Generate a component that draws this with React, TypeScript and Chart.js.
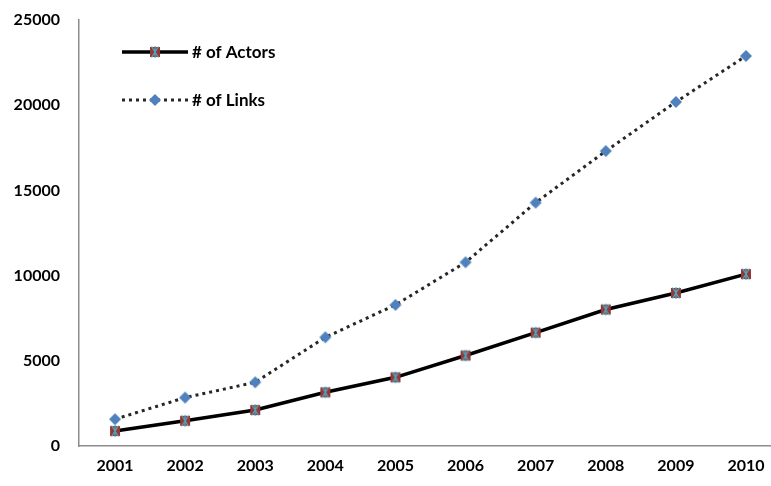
import React, { useEffect, useRef } from "react";
import { Chart, registerables } from "chart.js";

Chart.register(...registerables);

const years = [2001, 2002, 2003, 2004, 2005, 2006, 2007, 2008, 2009, 2010];
const actors = [880, 1480, 2110, 3150, 4030, 5310, 6650, 8010, 8980, 10090];
const links = [1570, 2840, 3740, 6380, 8280, 10780, 14280, 17310, 20190, 22890];
const yTicks = [0, 5000, 10000, 15000, 20000, 25000];
const seriesNames = ["# of Actors", "# of Links"];

const FONT = "Lato, 'Open Sans', sans-serif";

function makeActorMarker(): HTMLCanvasElement {
  const c = document.createElement("canvas");
  c.width = 14;
  c.height = 14;
  const ctx = c.getContext("2d")!;
  ctx.fillStyle = "#953735";
  ctx.fillRect(2, 2, 10, 10);
  ctx.strokeStyle = "#4BACC6";
  ctx.lineWidth = 1.2;
  ctx.beginPath();
  ctx.moveTo(7, 1);
  ctx.lineTo(7, 13);
  ctx.moveTo(3.5, 1.5);
  ctx.lineTo(10.5, 12.5);
  ctx.moveTo(10.5, 1.5);
  ctx.lineTo(3.5, 12.5);
  ctx.stroke();
  return c;
}

function makeLinkMarker(): HTMLCanvasElement {
  const c = document.createElement("canvas");
  c.width = 14;
  c.height = 14;
  const ctx = c.getContext("2d")!;
  ctx.fillStyle = "#4F81BD";
  ctx.beginPath();
  ctx.moveTo(7, 1);
  ctx.lineTo(13, 7);
  ctx.lineTo(7, 13);
  ctx.lineTo(1, 7);
  ctx.closePath();
  ctx.fill();
  return c;
}

export default function App() {
  const ref = useRef<HTMLCanvasElement>(null);

  useEffect(() => {
    if (!ref.current) return;
    const actorMarker = makeActorMarker();
    const linkMarker = makeLinkMarker();

    const legendPlugin = {
      id: "insideLegend",
      afterDraw(chart: any) {
        const ctx = chart.ctx;
        const items = [
          { name: seriesNames[0], y: 52, dash: [] as number[], marker: actorMarker, width: 3.5 },
          { name: seriesNames[1], y: 100, dash: [3, 4], marker: linkMarker, width: 3 },
        ];
        ctx.save();
        for (const it of items) {
          ctx.strokeStyle = it.dash.length ? "#262626" : "#000000";
          ctx.lineWidth = it.width;
          ctx.setLineDash(it.dash);
          ctx.beginPath();
          ctx.moveTo(122, it.y);
          ctx.lineTo(188, it.y);
          ctx.stroke();
          ctx.setLineDash([]);
          ctx.drawImage(it.marker, 155 - 7, it.y - 7);
          ctx.fillStyle = "#000";
          ctx.font = `bold 17px ${FONT}`;
          ctx.textBaseline = "middle";
          ctx.textAlign = "left";
          ctx.fillText(it.name, 192, it.y + 1);
        }
        ctx.restore();
      },
    };

    const chart = new Chart(ref.current, {
      type: "line",
      data: {
        datasets: [
          {
            label: seriesNames[1],
            data: years.map((y, i) => ({ x: y, y: links[i] })),
            borderColor: "#262626",
            borderWidth: 3,
            borderDash: [3, 4],
            tension: 0,
            pointStyle: linkMarker as any,
            pointRadius: 7,
            fill: false,
          },
          {
            label: seriesNames[0],
            data: years.map((y, i) => ({ x: y, y: actors[i] })),
            borderColor: "#000000",
            borderWidth: 3.5,
            tension: 0,
            pointStyle: actorMarker as any,
            pointRadius: 7,
            fill: false,
          },
        ],
      },
      options: {
        animation: false,
        responsive: false,
        events: [],
        layout: { autoPadding: false, padding: { top: 20, left: 0, right: 0, bottom: 0 } },
        plugins: {
          legend: { display: false },
          tooltip: { enabled: false },
          title: { display: false },
        },
        scales: {
          x: {
            type: "linear",
            min: 2000.4865,
            max: 2010.3566,
            grid: { display: false, drawTicks: false },
            border: { display: true, color: "#8C8C8C", width: 1.5 },
            ticks: {
              color: "#000",
              font: { family: FONT, weight: "bold", size: 16 },
              padding: 10,
              maxRotation: 0,
              autoSkip: false,
              callback: (v: any) => String(v),
            },
            afterBuildTicks: (scale: any) => {
              scale.ticks = years.map((v) => ({ value: v }));
            },
            afterFit: (scale: any) => {
              scale.height = 40;
              scale.paddingLeft = 0;
              scale.paddingRight = 0;
            },
          },
          y: {
            type: "linear",
            min: 0,
            max: 25000,
            grid: { display: false, drawTicks: false },
            border: { display: true, color: "#8C8C8C", width: 1.5 },
            ticks: {
              color: "#000",
              font: { family: FONT, weight: "bold", size: 16 },
              padding: 19,
              callback: (v: any) => String(v),
            },
            afterBuildTicks: (scale: any) => {
              scale.ticks = yTicks.map((v) => ({ value: v }));
            },
            afterFit: (scale: any) => {
              scale.width = 79;
              scale.paddingTop = 0;
              scale.paddingBottom = 0;
            },
          },
        },
      },
      plugins: [legendPlugin],
    });
    return () => chart.destroy();
  }, []);

  return (
    <div style={{ position: "fixed", left: 0, top: 0, width: 771, height: 486, background: "#fff" }}>
      <canvas ref={ref} width={771} height={486} style={{ display: "block" }} />
    </div>
  );
}
